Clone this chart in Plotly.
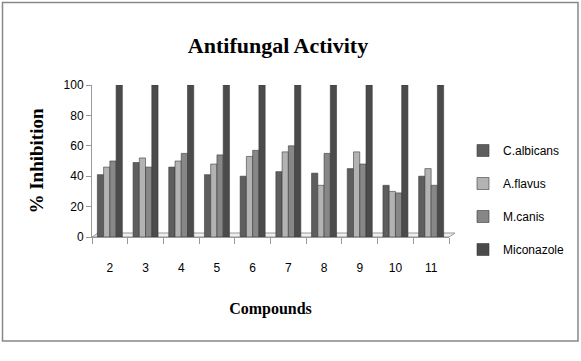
import plotly.graph_objects as go

compounds = ["2", "3", "4", "5", "6", "7", "8", "9", "10", "11"]
c_albicans = [41, 49, 46, 41, 40, 43, 42, 45, 34, 40]
a_flavus = [46, 52, 50, 48, 53, 56, 34, 56, 30, 45]
m_canis = [50, 46, 55, 54, 57, 60, 55, 48, 29, 34]
miconazole = [100, 100, 100, 100, 100, 100, 100, 100, 100, 100]

series = [
    ("C.albicans", c_albicans, "#5e5e5e"),
    ("A.flavus", a_flavus, "#b3b3b3"),
    ("M.canis", m_canis, "#878787"),
    ("Miconazole", miconazole, "#4b4b4b"),
]

W, H = 581, 361
L, R, T, B = 92, 132, 85, 124
pw = W - L - R
ph = H - T - B

def px_x(p):
    return (p - L) / pw

def px_y(p):
    return (H - B - p) / ph

fig = go.Figure()
for name, vals, col in series:
    fig.add_trace(go.Bar(
        x=compounds, y=vals, name=name, legendgroup=name,
        marker=dict(color=col, line=dict(color="#3a3a3a", width=0.6)),
    ))

sans = "Liberation Sans Narrow, Liberation Sans, Arial, sans-serif"
serif = "Liberation Serif, Times New Roman, serif"

shapes = [
    # outer frame
    dict(type="rect", xref="paper", yref="paper",
         x0=px_x(2.5), x1=px_x(578), y0=px_y(341), y1=px_y(2.5),
         line=dict(color="#888888", width=1.5), fillcolor="rgba(0,0,0,0)", layer="below"),
    # floor
    dict(type="path", xref="paper", yref="paper",
         path=f"M 0,0 L 1,0 L {1+6/pw},{4/ph} L {6/pw},{4/ph} Z",
         line=dict(color="#999999", width=1), fillcolor="#eeeeee", layer="below"),
]

fig.update_layout(
    width=W, height=H,
    margin=dict(l=L, r=R, t=T, b=B, autoexpand=False),
    paper_bgcolor="white", plot_bgcolor="white",
    barmode="group", bargap=0.3, bargroupgap=0,
    title=dict(text="<b>Antifungal Activity</b>", x=278 / W, xanchor="center",
               y=1 - 45 / H, yanchor="middle", yref="container",
               font=dict(family=serif, size=22, color="black")),
    xaxis=dict(
        type="category", showline=True, linecolor="#999999", linewidth=1,
        ticks="outside", tickson="boundaries", ticklen=6, tickcolor="#999999",
        ticklabelstandoff=20, showgrid=False,
        tickfont=dict(family=sans, size=12, color="black"),
        title=dict(text="<b>Compounds</b>", standoff=28,
                   font=dict(family=serif, size=16, color="black")),
    ),
    yaxis=dict(
        range=[0, 100], tickvals=[0, 20, 40, 60, 80, 100],
        showline=True, linecolor="#999999", linewidth=1,
        ticks="outside", ticklen=5, tickcolor="#999999", showgrid=False,
        zeroline=False,
        tickfont=dict(family=sans, size=12, color="black"),
        title=dict(text="<b>% Inhibition</b>", standoff=14,
                   font=dict(family=serif, size=19, color="black")),
    ),
    legend=dict(x=px_x(463), y=px_y(136), xanchor="left", yanchor="top",
                tracegroupgap=14, traceorder="grouped",
                font=dict(family=sans, size=12, color="black"),
                bgcolor="rgba(0,0,0,0)"),
    shapes=shapes,
)

fig.write_html("out.html", config={"displayModeBar": False},
               post_script="document.body.style.margin='0';")
